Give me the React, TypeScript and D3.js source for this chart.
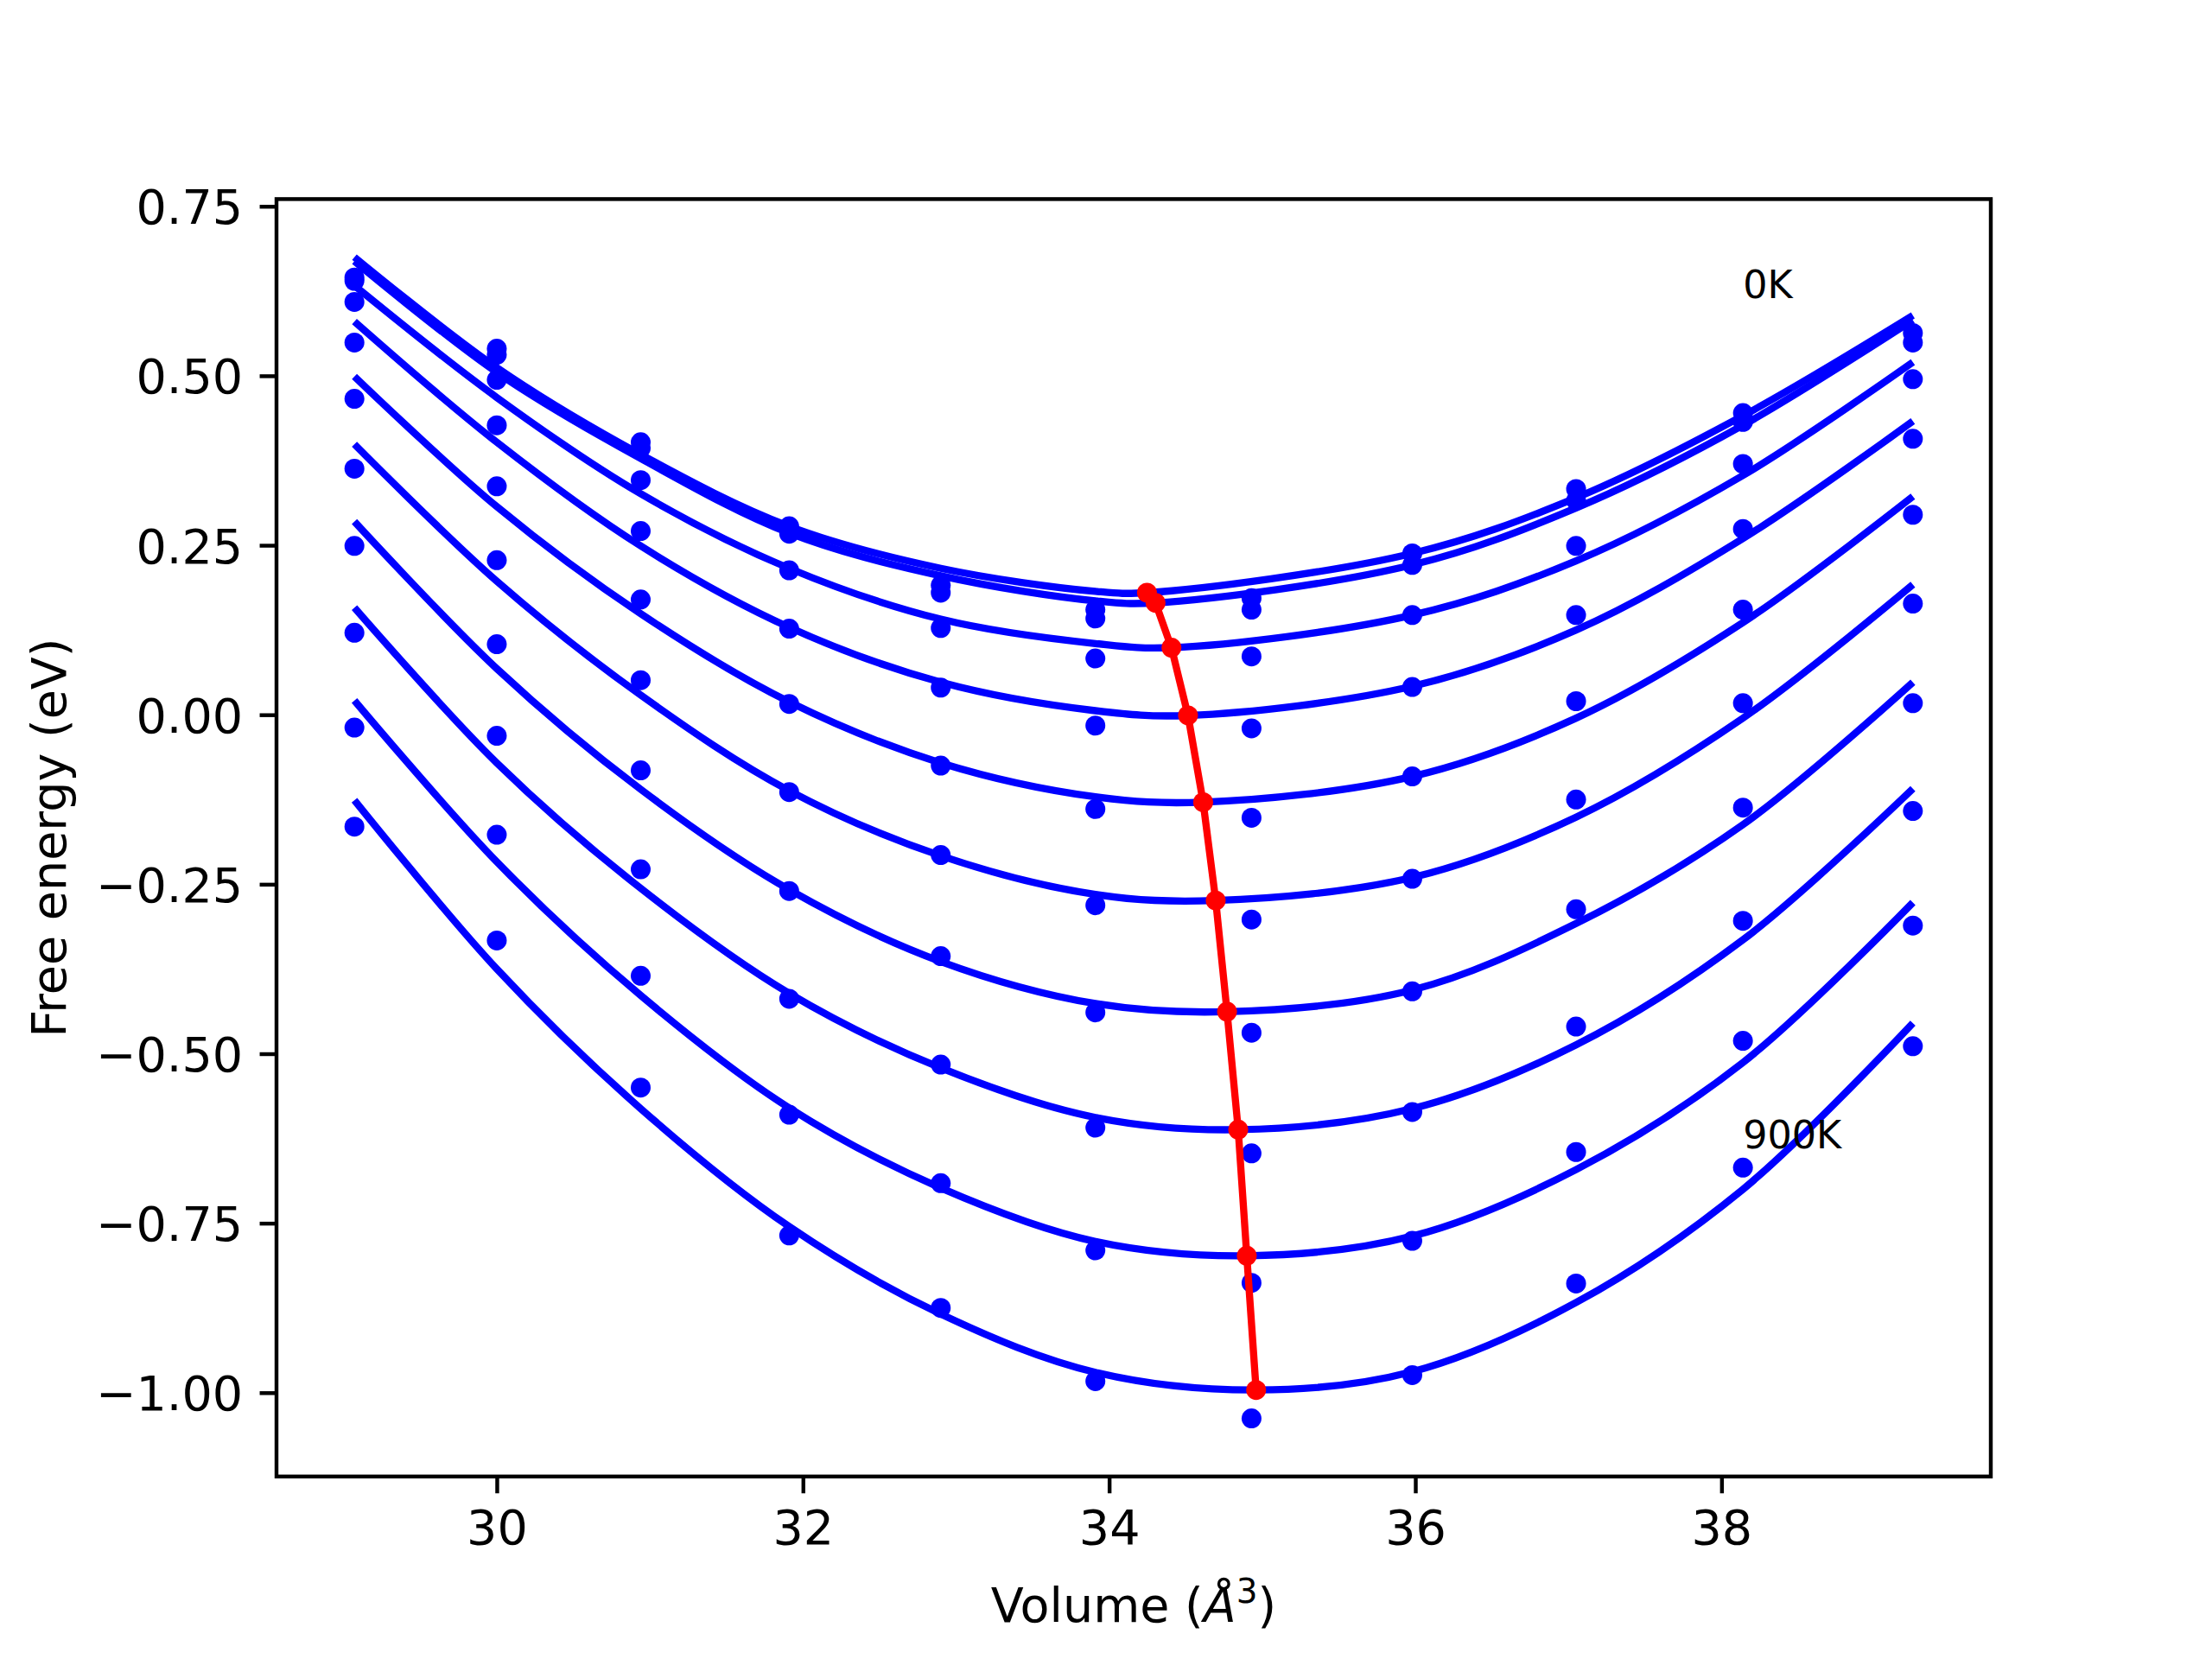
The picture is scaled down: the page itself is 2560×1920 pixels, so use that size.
import { useEffect, useRef } from "react";
import * as d3 from "d3";

// volumes where the free energy was computed (Å^3)
const VOLUMES = [29.07, 30.0, 30.94, 31.91, 32.9, 33.91, 34.93, 35.98, 37.05, 38.14, 39.25];
const TEMPS = ["0K", "100K", "200K", "300K", "400K", "500K", "600K", "700K", "800K", "900K"];

// computed free energies, one row per temperature (eV)
const DOT_F = [
  [0.645, 0.54, 0.402, 0.278, 0.191, 0.155, 0.172, 0.238, 0.333, 0.445, 0.563],
  [0.64, 0.531, 0.393, 0.267, 0.18, 0.142, 0.155, 0.221, 0.316, 0.432, 0.549],
  [0.609, 0.494, 0.346, 0.213, 0.128, 0.083, 0.086, 0.147, 0.249, 0.37, 0.495],
  [0.549, 0.427, 0.271, 0.127, 0.04, -0.016, -0.02, 0.041, 0.147, 0.274, 0.407],
  [0.466, 0.337, 0.17, 0.016, -0.075, -0.139, -0.152, -0.091, 0.02, 0.155, 0.295],
  [0.363, 0.228, 0.051, -0.114, -0.207, -0.281, -0.302, -0.242, -0.125, 0.017, 0.164],
  [0.249, 0.104, -0.082, -0.26, -0.356, -0.439, -0.469, -0.408, -0.287, -0.137, 0.017],
  [0.121, -0.031, -0.228, -0.419, -0.516, -0.609, -0.647, -0.586, -0.46, -0.304, -0.142],
  [-0.019, -0.177, -0.385, -0.59, -0.691, -0.79, -0.838, -0.776, -0.645, -0.481, -0.311],
  [-0.165, -0.333, -0.55, -0.768, -0.875, -0.983, -1.038, -0.974, -0.839, -0.668, -0.489],
];

// fitted curves, read at a few volumes on each side of the minimum
const FIT_LEFT_V = [29.07, 30.0, 30.94, 31.91, 32.9, 33.91];
const FIT_LEFT_F = [
  [0.675, 0.512, 0.384, 0.278, 0.216, 0.182],
  [0.669, 0.505, 0.378, 0.268, 0.205, 0.168],
  [0.633, 0.468, 0.326, 0.216, 0.141, 0.105],
  [0.58, 0.402, 0.249, 0.129, 0.048, 0.006],
  [0.499, 0.307, 0.149, 0.019, -0.071, -0.121],
  [0.399, 0.197, 0.029, -0.112, -0.208, -0.265],
  [0.285, 0.068, -0.11, -0.258, -0.364, -0.426],
  [0.158, -0.071, -0.256, -0.411, -0.521, -0.594],
  [0.021, -0.217, -0.414, -0.58, -0.698, -0.777],
  [-0.126, -0.375, -0.581, -0.755, -0.884, -0.97],
];
const FIT_RIGHT_V = [35.98, 37.05, 38.14, 39.25];
const FIT_RIGHT_F = [
  [0.238, 0.32, 0.441, 0.589],
  [0.221, 0.305, 0.427, 0.582],
  [0.147, 0.227, 0.353, 0.52],
  [0.042, 0.125, 0.26, 0.433],
  [-0.091, -0.005, 0.136, 0.322],
  [-0.24, -0.151, -0.005, 0.192],
  [-0.406, -0.308, -0.162, 0.048],
  [-0.581, -0.487, -0.332, -0.109],
  [-0.769, -0.671, -0.513, -0.277],
  [-0.969, -0.867, -0.7, -0.455],
];

// minimum of each fit (red path)
const MIN_V = [34.247, 34.303, 34.407, 34.515, 34.614, 34.696, 34.77, 34.843, 34.899, 34.96];
const MIN_F = [0.18, 0.165, 0.099, -0.001, -0.129, -0.274, -0.438, -0.612, -0.798, -0.996];

const NOTE_TEXT = ["0K", "900K"];
const NOTE_V = [38.14, 38.14];
const NOTE_F = [0.614, -0.639];

const X_TICKS = [30, 32, 34, 36, 38];
const Y_TICKS = [-1.0, -0.75, -0.5, -0.25, 0, 0.25, 0.5, 0.75];

const W = 2560;
const H = 1920;
const FONT = "DejaVu Sans";
const PT = 400 / 72;

export default function App() {
  const svgRef = useRef<SVGSVGElement>(null);

  useEffect(() => {
    if (!svgRef.current) return;
    const svg = d3.select(svgRef.current);
    svg.selectAll("*").remove();

    const left = 0.125 * W;
    const right = 0.9 * W;
    const top = 0.12 * H;
    const bottom = 0.89 * H;

    // matplotlib style 5% margins
    const vExt = d3.extent(VOLUMES) as [number, number];
    const allF = [...DOT_F.flat(), ...FIT_LEFT_F.flat(), ...FIT_RIGHT_F.flat(), ...MIN_F];
    const fExt = d3.extent(allF) as [number, number];
    const vPad = (vExt[1] - vExt[0]) * 0.05;
    const fPad = (fExt[1] - fExt[0]) * 0.05;

    const x = d3.scaleLinear().domain([vExt[0] - vPad, vExt[1] + vPad]).range([left, right]);
    const y = d3.scaleLinear().domain([fExt[0] - fPad, fExt[1] + fPad]).range([bottom, top]);

    svg.append("rect").attr("width", W).attr("height", H).attr("fill", "#fff");

    const plot = svg.append("g");
    const line = d3
      .line<[number, number]>()
      .x((d) => x(d[0]))
      .y((d) => y(d[1]))
      .curve(d3.curveCatmullRom.alpha(0.5));

    TEMPS.forEach((_, i) => {
      // dots
      plot
        .append("g")
        .selectAll("circle")
        .data(VOLUMES.map((v, j) => [v, DOT_F[i][j]]))
        .join("circle")
        .attr("cx", (d) => x(d[0]))
        .attr("cy", (d) => y(d[1]))
        .attr("r", 11.5)
        .attr("fill", "#0000ff");

      // fitted curve
      const pts: [number, number][] = [
        ...FIT_LEFT_V.map((v, j) => [v, FIT_LEFT_F[i][j]] as [number, number]),
        [MIN_V[i], MIN_F[i]],
        ...FIT_RIGHT_V.map((v, j) => [v, FIT_RIGHT_F[i][j]] as [number, number]),
      ];
      plot
        .append("path")
        .attr("d", line(pts))
        .attr("fill", "none")
        .attr("stroke", "#0000ff")
        .attr("stroke-width", 1.5 * PT);
    });

    // path of minima
    const minPts = MIN_V.map((v, i) => [v, MIN_F[i]] as [number, number]);
    plot
      .append("path")
      .attr("d", d3.line<[number, number]>().x((d) => x(d[0])).y((d) => y(d[1]))(minPts))
      .attr("fill", "none")
      .attr("stroke", "#ff0000")
      .attr("stroke-width", 1.5 * PT)
      .attr("stroke-linejoin", "round");
    plot
      .append("g")
      .selectAll("circle")
      .data(minPts)
      .join("circle")
      .attr("cx", (d) => x(d[0]))
      .attr("cy", (d) => y(d[1]))
      .attr("r", 11.5)
      .attr("fill", "#ff0000");

    // annotations
    NOTE_TEXT.forEach((t, i) => {
      svg
        .append("text")
        .attr("x", x(NOTE_V[i]))
        .attr("y", y(NOTE_F[i]))
        .attr("font-family", FONT)
        .attr("font-size", 8 * PT)
        .attr("fill", "#000")
        .text(t);
    });

    // axes
    const tickLen = 3.5 * PT;
    const fs = 10 * PT;
    const xAxis = svg
      .append("g")
      .attr("transform", `translate(0,${bottom})`)
      .call(
        d3
          .axisBottom(x)
          .tickValues(X_TICKS)
          .tickSize(tickLen)
          .tickSizeOuter(0)
          .tickPadding(tickLen)
          .tickFormat(d3.format("d"))
      );
    const yAxis = svg
      .append("g")
      .attr("transform", `translate(${left},0)`)
      .call(
        d3
          .axisLeft(y)
          .tickValues(Y_TICKS)
          .tickSize(tickLen)
          .tickSizeOuter(0)
          .tickPadding(tickLen)
          .tickFormat(d3.format(".2f"))
      );
    [xAxis, yAxis].forEach((g) => {
      g.select(".domain").remove();
      g.selectAll("line").attr("stroke", "#000").attr("stroke-width", 0.8 * PT);
      g.selectAll("text").attr("font-family", FONT).attr("font-size", fs).attr("fill", "#000");
    });
    yAxis.selectAll("text").attr("dy", "0.36em");

    svg
      .append("rect")
      .attr("x", left)
      .attr("y", top)
      .attr("width", right - left)
      .attr("height", bottom - top)
      .attr("fill", "none")
      .attr("stroke", "#000")
      .attr("stroke-width", 0.8 * PT);

    // axis labels
    const xl = svg
      .append("text")
      .attr("x", (left + right) / 2)
      .attr("y", 1877)
      .attr("text-anchor", "middle")
      .attr("font-family", FONT)
      .attr("font-size", fs)
      .attr("fill", "#000");
    xl.append("tspan").text("Volume (");
    xl.append("tspan").attr("font-style", "italic").text("Å");
    xl.append("tspan").attr("dy", -0.4 * fs).attr("font-size", fs * 0.7).text("3");
    xl.append("tspan").attr("dy", 0.4 * fs).text(")");

    svg
      .append("text")
      .attr("transform", `translate(76,${(top + bottom) / 2}) rotate(-90)`)
      .attr("text-anchor", "middle")
      .attr("font-family", FONT)
      .attr("font-size", fs)
      .attr("fill", "#000")
      .text("Free energy (eV)");
  }, []);

  return (
    <div style={{ position: "absolute", left: 0, top: 0 }}>
      <svg ref={svgRef} width={W} height={H} style={{ display: "block" }} />
    </div>
  );
}
